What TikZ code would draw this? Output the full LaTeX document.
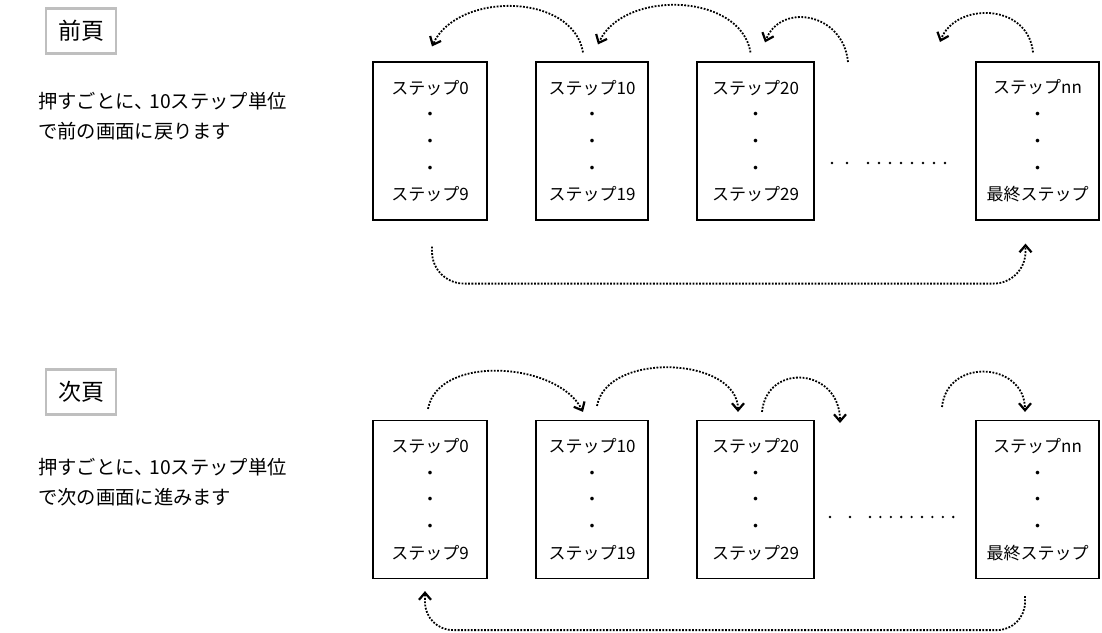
\documentclass[tikz,border=0pt]{standalone}
\usepackage{fontspec}
\setmainfont{Noto Sans CJK JP}
\usetikzlibrary{arrows.meta}

\begin{document}
\begin{tikzpicture}[x=1pt,y=-1pt,
  c/.style={draw,line width=1.2pt,minimum height=158pt,align=center,
    inner sep=0pt,font=\fontsize{17}{26.7}\selectfont},
  btn/.style={draw=gray!50,line width=2.5pt,fill=white,minimum width=70pt,
    minimum height=45pt,font=\fontsize{23}{23}\selectfont},
  txt/.style={anchor=west,align=left,inner sep=0pt,
    font=\fontsize{19.3}{30}\selectfont},
  arr/.style={dash pattern=on 1.8pt off 1.5pt,line width=1.8pt,
    -{Straight Barb[length=7pt,width=12pt,line width=2.2pt]}}]
  \useasboundingbox (0,0) rectangle (1102,632);
  % 前頁
  \node[btn] (prev) at (81,31) {前頁};
  \node[txt] (prevtxt) at (38,116) {押すごとに、\kern-4pt 10ステップ単位\\で前の画面に戻ります};
  \node[c,minimum width=114pt] (p0) at (430,141) {ステップ0\\・\\・\\・\\ステップ9};
  \node[c,minimum width=112pt] (p1) at (592,141) {ステップ10\\・\\・\\・\\ステップ19};
  \node[c,minimum width=117pt] (p2) at (755.5,141) {ステップ20\\・\\・\\・\\ステップ29};
  \node[c,minimum width=123pt] (pn) at (1037.5,141) {ステップnn\\・\\・\\・\\最終ステップ};
  \coordinate (pfrom) at (848,62);
  \coordinate (pto) at (940,42);
  \foreach \x in {832,847,868,879,890,901,912,923,934,945}
    \fill (\x,163) circle (1.3pt);
  \draw[arr] ([xshift=-9pt,yshift=9pt]p1.north) .. controls +(-10,-60) and +(25,-55) .. ([xshift=2pt,yshift=15pt]p0.north);
  \draw[arr] ([xshift=-5pt,yshift=9pt]p2.north) .. controls +(-10,-60) and +(25,-55) .. ([xshift=6pt,yshift=17pt]p1.north);
  \draw[arr] (pfrom) .. controls +(-5,-50) and +(15,-40) .. ([xshift=9.5pt,yshift=19pt]p2.north);
  \draw[arr] ([xshift=-4.5pt,yshift=9pt]pn.north) .. controls +(-5,-50) and +(15,-40) .. (pto);
  \draw[arr,rounded corners=32pt] ([xshift=2pt,yshift=-26pt]p0.south) |- ++(300,37) -| ([xshift=-12pt,yshift=-23pt]pn.south);

  % 次頁
  \node[btn] (next) at (81,392) {次頁};
  \node[txt] (nexttxt) at (38,482) {押すごとに、\kern-4pt 10ステップ単位\\で次の画面に進みます};
  \node[c,minimum width=114pt] (n0) at (430,499.5) {ステップ0\\・\\・\\・\\ステップ9};
  \node[c,minimum width=112pt] (n1) at (592,499.5) {ステップ10\\・\\・\\・\\ステップ19};
  \node[c,minimum width=117pt] (n2) at (755.5,499.5) {ステップ20\\・\\・\\・\\ステップ29};
  \node[c,minimum width=123pt] (nn) at (1037.5,499.5) {ステップnn\\・\\・\\・\\最終ステップ};
  \coordinate (nto) at (840,423);
  \coordinate (nfrom) at (942,407);
  \foreach \x in {830,850,870,880.4,890.8,901.2,911.6,922,932.4,942.8,953.2}
    \fill (\x,517) circle (1.3pt);
  \draw[arr] ([xshift=-2pt,yshift=11pt]n0.north) .. controls +(10,-55) and +(-25,-50) .. ([xshift=-9pt,yshift=8pt]n1.north);
  \draw[arr] ([xshift=5pt,yshift=14pt]n1.north) .. controls +(10,-55) and +(0,-55) .. ([xshift=-17.5pt,yshift=8pt]n2.north);
  \draw[arr] ([xshift=6.5pt,yshift=8pt]n2.north) .. controls +(5,-50) and +(0,-55) .. (nto);
  \draw[arr] (nfrom) .. controls +(5,-50) and +(0,-50) .. ([xshift=-12.5pt,yshift=8pt]nn.north);
  \draw[arr,rounded corners=28pt] ([xshift=-12.5pt,yshift=-17pt]nn.south) |- ++(-300,34) -| ([xshift=-5pt,yshift=-12pt]n0.south);
\end{tikzpicture}
\end{document}
